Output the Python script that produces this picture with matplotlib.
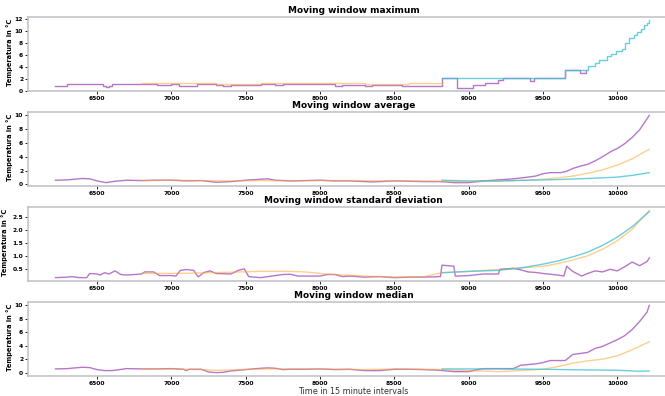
import matplotlib
matplotlib.use("Agg")
import matplotlib.pyplot as plt

# ---------------- data ----------------
titles = ["Moving window maximum", "Moving window average",
          "Moving window standard deviation", "Moving window median"]

# maximum
max_p_x = [6220, 6300, 6500, 6540, 6560, 6580, 6600, 6800, 6900, 7000, 7050, 7170, 7300, 7350, 7400,
           7600, 7700, 7750, 8000, 8100, 8150, 8300, 8350, 8550, 8600, 8700, 8760, 8820, 8920, 9030,
           9110, 9200, 9230, 9410, 9440, 9480, 9650, 9750, 9790]
max_p_y = [0.9, 1.2, 1.1, 0.9, 0.6, 0.9, 1.2, 1.2, 1.0, 1.1, 0.9, 1.1, 0.95, 0.85, 0.95,
           1.1, 0.95, 1.1, 1.1, 0.8, 1.05, 0.9, 1.0, 0.9, 0.8, 0.9, 0.9, 2.2, 0.55, 1.0,
           1.3, 1.8, 2.1, 1.7, 2.1, 2.2, 3.5, 3.0, 3.5]
max_o_x = [6800, 7000, 7300, 7600, 8000, 8300, 8600, 8820]
max_o_y = [1.3, 1.25, 1.2, 1.3, 1.25, 1.2, 1.25, 1.2]
max_c_x = [8820, 9650, 9800, 9850, 9880, 9930, 9960, 9990, 10030, 10050, 10080, 10110, 10130,
           10160, 10180, 10200, 10215]
max_c_y = [2.2, 3.5, 4.2, 4.6, 5.2, 5.8, 6.2, 6.6, 7.0, 8.0, 8.8, 9.2, 9.7,
           10.3, 10.9, 11.3, 11.7]

# average
avg_p_x = [6220, 6300, 6400, 6450, 6500, 6560, 6620, 6700, 6800, 6900, 7000, 7100, 7200, 7300,
           7400, 7500, 7600, 7650, 7700, 7800, 7900, 8000, 8100, 8200, 8350, 8500, 8600, 8700,
           8800, 8850, 8900, 9000, 9100, 9200, 9300, 9400, 9450, 9500, 9550, 9620, 9660, 9700,
           9760, 9800, 9850, 9900, 9960, 10000, 10050, 10100, 10150, 10215]
avg_p_y = [0.6, 0.65, 0.85, 0.8, 0.5, 0.25, 0.45, 0.6, 0.55, 0.6, 0.6, 0.5, 0.55, 0.3,
           0.4, 0.6, 0.75, 0.8, 0.6, 0.5, 0.55, 0.6, 0.5, 0.5, 0.35, 0.5, 0.45, 0.4,
           0.4, 0.35, 0.25, 0.25, 0.5, 0.65, 0.8, 1.05, 1.2, 1.55, 1.7, 1.7, 1.9, 2.3,
           2.7, 2.9, 3.4, 4.0, 4.8, 5.2, 5.9, 6.8, 7.9, 10.0]
avg_o_x = [6800, 7000, 7200, 7400, 7600, 7800, 8000, 8200, 8400, 8600, 8820, 9000, 9200, 9400,
           9500, 9600, 9700, 9800, 9900, 10000, 10100, 10215]
avg_o_y = [0.55, 0.6, 0.55, 0.5, 0.55, 0.5, 0.55, 0.55, 0.5, 0.5, 0.45, 0.4, 0.45, 0.6,
           0.75, 0.95, 1.2, 1.6, 2.1, 2.8, 3.7, 5.1]
avg_c_x = [8820, 9000, 9200, 9400, 9600, 9800, 10000, 10100, 10215]
avg_c_y = [0.6, 0.5, 0.5, 0.6, 0.7, 0.85, 1.05, 1.3, 1.7]

# standard deviation
std_p_x = [6220, 6300, 6330, 6380, 6430, 6450, 6500, 6520, 6550, 6580, 6620, 6660, 6700, 6800,
           6820, 6880, 6920, 7000, 7030, 7060, 7100, 7150, 7180, 7220, 7260, 7300, 7400, 7450,
           7490, 7520, 7600, 7700, 7750, 7800, 7850, 7900, 8000, 8050, 8100, 8150, 8200, 8300,
           8400, 8500, 8600, 8700, 8810, 8820, 8900, 8910, 9000, 9100, 9200, 9210, 9300, 9350,
           9400, 9450, 9500, 9600, 9640, 9660, 9700, 9760, 9800, 9850, 9900, 9950, 10000, 10050,
           10100, 10150, 10200, 10215]
std_p_y = [0.16, 0.18, 0.2, 0.16, 0.16, 0.32, 0.3, 0.26, 0.35, 0.3, 0.42, 0.28, 0.26, 0.3,
           0.38, 0.38, 0.24, 0.24, 0.22, 0.44, 0.47, 0.44, 0.19, 0.36, 0.42, 0.32, 0.3, 0.44,
           0.5, 0.2, 0.16, 0.24, 0.28, 0.29, 0.22, 0.22, 0.22, 0.28, 0.28, 0.2, 0.22, 0.18,
           0.2, 0.16, 0.18, 0.18, 0.2, 0.64, 0.6, 0.22, 0.24, 0.3, 0.3, 0.48, 0.52, 0.46,
           0.38, 0.36, 0.32, 0.26, 0.22, 0.6, 0.4, 0.22, 0.32, 0.42, 0.38, 0.48, 0.42, 0.58,
           0.76, 0.62, 0.78, 0.92]
std_o_x = [6800, 7000, 7200, 7400, 7600, 7800, 7900, 8000, 8100, 8300, 8500, 8700, 8820, 9000,
           9200, 9400, 9500, 9600, 9700, 9800, 9900, 10000, 10100, 10150, 10215]
std_o_y = [0.33, 0.32, 0.34, 0.37, 0.4, 0.4, 0.38, 0.32, 0.28, 0.22, 0.18, 0.2, 0.35, 0.4,
           0.47, 0.55, 0.6, 0.7, 0.84, 1.0, 1.25, 1.58, 2.02, 2.35, 2.75]
std_c_x = [8820, 9000, 9200, 9300, 9400, 9500, 9600, 9700, 9800, 9900, 10000, 10050, 10100,
           10150, 10215]
std_c_y = [0.35, 0.4, 0.44, 0.5, 0.58, 0.68, 0.8, 0.96, 1.14, 1.4, 1.72, 1.92, 2.12,
           2.37, 2.7]

# median
med_p_x = [6220, 6300, 6400, 6450, 6500, 6550, 6600, 6700, 6800, 6900, 7000, 7080, 7100, 7120,
           7200, 7250, 7300, 7350, 7400, 7500, 7600, 7650, 7700, 7750, 7800, 7900, 8000, 8100,
           8200, 8300, 8400, 8500, 8600, 8700, 8800, 8900, 9000, 9050, 9100, 9300, 9350, 9450,
           9500, 9550, 9650, 9700, 9800, 9850, 9900, 9950, 10000, 10050, 10100, 10150, 10200, 10215]
med_p_y = [0.55, 0.6, 0.8, 0.75, 0.45, 0.3, 0.3, 0.6, 0.55, 0.55, 0.6, 0.5, 0.3, 0.5,
           0.5, 0.1, 0.0, 0.05, 0.25, 0.45, 0.65, 0.7, 0.65, 0.45, 0.5, 0.5, 0.55, 0.45,
           0.5, 0.3, 0.3, 0.5, 0.5, 0.45, 0.35, 0.15, 0.15, 0.4, 0.6, 0.6, 1.1, 1.3,
           1.5, 1.8, 1.8, 2.7, 3.0, 3.6, 3.9, 4.4, 4.9, 5.5, 6.4, 7.6, 9.0, 10.0]
med_o_x = [6800, 7000, 7200, 7300, 7400, 7500, 7700, 8000, 8300, 8500, 8700, 8820, 9000, 9200,
           9300, 9500, 9600, 9700, 9800, 9900, 10000, 10100, 10150, 10215]
med_o_y = [0.5, 0.55, 0.45, 0.35, 0.4, 0.5, 0.55, 0.55, 0.45, 0.55, 0.5, 0.45, 0.3, 0.15,
           0.25, 0.5, 0.9, 1.4, 1.75, 2.0, 2.5, 3.4, 3.9, 4.6]
med_c_x = [8820, 9200, 9500, 9800, 10000, 10150, 10215]
med_c_y = [0.55, 0.55, 0.5, 0.4, 0.35, 0.2, 0.25]

panels = [
    (max_p_x, max_p_y, max_o_x, max_o_y, max_c_x, max_c_y, "steps-post"),
    (avg_p_x, avg_p_y, avg_o_x, avg_o_y, avg_c_x, avg_c_y, "default"),
    (std_p_x, std_p_y, std_o_x, std_o_y, std_c_x, std_c_y, "default"),
    (med_p_x, med_p_y, med_o_x, med_o_y, med_c_x, med_c_y, "default"),
]
yticks = [[0, 2, 4, 6, 8, 10, 12], [0, 2, 4, 6, 8, 10],
          [0.5, 1.0, 1.5, 2.0, 2.5], [0, 2, 4, 6, 8, 10]]
xticks = [6500, 7000, 7500, 8000, 8500, 9000, 9500, 10000]

# ---------------- plot ----------------
fig = plt.figure(figsize=(6.65, 3.96), dpi=100)
tops_px = [17, 112, 207, 302]
h_px = 74
label_x_px = [13, 13, 8.5, 13]
purple = "#a455bd"
orange = "#ffa733"
cyan = "#45c4d4"

for i, (px, py, ox, oy, cx, cy, ds) in enumerate(panels):
    ax = fig.add_axes([28 / 665, 1 - (tops_px[i] + h_px) / 396, 651 / 665, h_px / 396])
    ax.plot(px, py, color=purple, lw=1.0, alpha=0.8, drawstyle=ds)
    ax.plot(ox, oy, color=orange, lw=1.0, alpha=0.55, drawstyle=ds)
    ax.plot(cx, cy, color=cyan, lw=1.0, alpha=0.8, drawstyle=ds)
    ax.set_xlim(6035, 10415)
    ax.set_xticks(xticks)
    ax.set_yticks(yticks[i])
    ax.tick_params(labelsize=4.3, length=2, width=0.6, pad=1.5)
    for lab in ax.get_xticklabels() + ax.get_yticklabels():
        lab.set_fontweight("bold")
    for s in ax.spines.values():
        s.set_color("#c4c4cc")
        s.set_linewidth(1.2)
    ax.set_title(titles[i], fontsize=6.5, fontweight="bold", pad=3)
    ax.set_ylabel("Temperatura in °C", fontsize=4.8, fontweight="bold")
    ax.yaxis.set_label_coords((label_x_px[i] - 28) / 651, 0.52)
    if i == 3:
        ax.set_xlabel("Time in 15 minute intervals", fontsize=5.8, color="#333333", labelpad=1)

fig.savefig("out.png", dpi=100)
